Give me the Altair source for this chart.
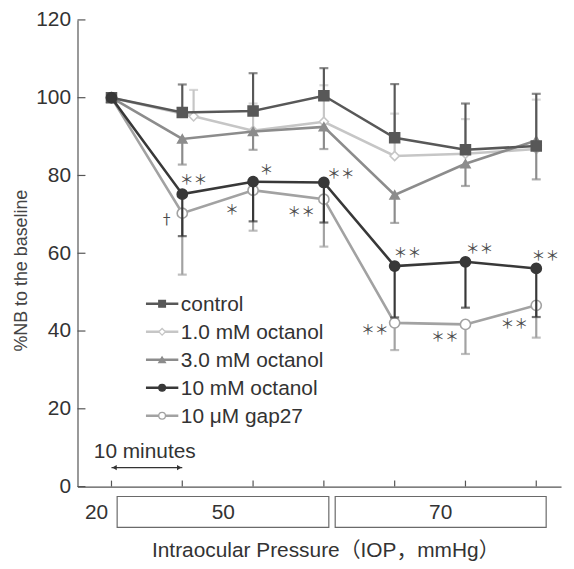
import altair as alt
import pandas as pd

FONT = "Liberation Sans, Noto Sans CJK JP"
TXT = "#333333"

# ---------------- data ----------------
series = ["control", "1.0 mM octanol", "3.0 mM octanol", "10 mM octanol", "10 μM gap27"]
times = [0, 1, 2, 3, 4, 5, 6]
times_1mM = [0, 1.16, 2, 3, 4, 5, 6]

control = [100, 96.2, 96.6, 100.5, 89.7, 86.6, 87.6]
octanol_1 = [100, 95.2, 91.5, 93.8, 85.0, 85.6, 86.8]
octanol_3 = [100, 89.4, 91.3, 92.5, 75.0, 83.0, 89.0]
octanol_10 = [100, 75.2, 78.4, 78.2, 56.7, 57.8, 56.1]
gap27 = [100, 70.3, 76.2, 73.9, 42.1, 41.7, 46.6]

# error bar end points (one-sided bars as drawn)
control_err = [None, 103.4, 106.3, 107.6, 103.5, 98.5, 101.0]
octanol_1_err = [None, 102.0, 98.5, 103.2, 95.9, 94.5, 99.5]
octanol_3_err = [None, 82.8, 86.6, 86.8, 67.8, 77.3, 79.0]
octanol_10_err = [None, 64.4, 68.2, 67.9, 43.5, 46.0, 43.6]
gap27_err = [None, 54.5, 65.8, 61.7, 35.1, 34.1, 38.3]

# significance marks
sig_text = ["＊＊", "＊", "＊＊", "†", "＊", "＊＊", "＊＊", "＊＊", "＊＊", "＊＊", "＊＊", "＊＊"]
sig_t = [1.16, 2.19, 3.24, 0.78, 1.70, 2.68, 4.18, 5.20, 6.13, 3.72, 4.71, 5.69]
sig_v = [78.8, 81.5, 80.3, 68.6, 71.1, 70.6, 60.0, 61.0, 59.2, 40.2, 38.4, 41.7]

# pressure phases
pressures = ["20", "50", "70"]
phase_start = [None, 0.08, 3.16]
phase_end = [None, 3.07, 6.14]
phase_label_t = [-0.21, 1.58, 4.65]

y_ticks = [0, 20, 40, 60, 80, 100, 120]

# ---------------- styles ----------------
line_colors = {"control": "#585858", "1.0 mM octanol": "#c6c6c6", "3.0 mM octanol": "#8c8c8c",
               "10 mM octanol": "#383838", "10 μM gap27": "#a2a2a2"}
fills = {"control": "#585858", "1.0 mM octanol": "#ffffff", "3.0 mM octanol": "#8c8c8c",
         "10 mM octanol": "#383838", "10 μM gap27": "#ffffff"}
shapes = {"control": "square", "1.0 mM octanol": "diamond", "3.0 mM octanol": "triangle-up",
          "10 mM octanol": "circle", "10 μM gap27": "circle"}
sizes = {"control": 100, "1.0 mM octanol": 85, "3.0 mM octanol": 85, "10 mM octanol": 105, "10 μM gap27": 105}

W, H = 487, 470
xscale = alt.Scale(domain=[-0.48, 6.35], nice=False, zero=False)
yscale = alt.Scale(domain=[0, 120], nice=False)
xaxis = alt.Axis(labels=False, ticks=False, grid=False, domainColor="#555555", domainWidth=1.2, title=None)
yaxis = alt.Axis(values=y_ticks, tickSize=0, labelPadding=7, labelFontSize=21, labelFont=FONT,
                 labelColor=TXT, grid=False, domainColor="#555555", domainWidth=1.2,
                 title="%NB to the baseline", titleFont=FONT, titleFontSize=18,
                 titleFontWeight="normal", titleColor="#444444", titleX=-56, titleY=252,
                 titleAngle=270, titleAlign="center", titleBaseline="middle")

X = lambda f: alt.X(f, scale=xscale, axis=xaxis, title=None)
Y = lambda f: alt.Y(f, scale=yscale, axis=yaxis, title="%NB to the baseline")

data_map = {
    "control": (times, control, control_err),
    "1.0 mM octanol": (times_1mM, octanol_1, octanol_1_err),
    "3.0 mM octanol": (times, octanol_3, octanol_3_err),
    "10 mM octanol": (times, octanol_10, octanol_10_err),
    "10 μM gap27": (times, gap27, gap27_err),
}

layers = []

# manual inward ticks
layers.append(alt.Chart(pd.DataFrame({"y": y_ticks})).mark_rule(color="#555555", strokeWidth=1.2)
              .encode(y=Y("y:Q"), x=alt.value(0), x2=alt.value(8)))
layers.append(alt.Chart(pd.DataFrame({"t": times})).mark_rule(color="#555555", strokeWidth=1.2)
              .encode(x=X("t:Q"), y=alt.value(H), y2=alt.value(H - 6)))

draw_order = ["1.0 mM octanol", "10 μM gap27", "3.0 mM octanol", "control", "10 mM octanol"]
for s in draw_order:
    t, v, e = data_map[s]
    df = pd.DataFrame({"t": t, "v": v, "err": e})
    dfe = df.dropna()
    c = line_colors[s]
    layers.append(alt.Chart(dfe).mark_rule(color=c, strokeWidth=2.2)
                  .encode(x=X("t:Q"), y=Y("v:Q"), y2="err:Q"))
    layers.append(alt.Chart(dfe).mark_tick(color=c, thickness=2.2, size=9, orient="horizontal")
                  .encode(x=X("t:Q"), y=Y("err:Q")))
    layers.append(alt.Chart(df).mark_line(color=c, strokeWidth=2.6)
                  .encode(x=X("t:Q"), y=Y("v:Q"), order="t:Q"))
    layers.append(alt.Chart(df).mark_point(shape=shapes[s], filled=True, fill=fills[s], stroke=c,
                                           strokeWidth=1.6, size=sizes[s], opacity=1)
                  .encode(x=X("t:Q"), y=Y("v:Q")))

# significance marks
sig_df = pd.DataFrame({"t": sig_t, "v": sig_v, "txt": sig_text})
layers.append(alt.Chart(sig_df).mark_text(font="Noto Sans CJK JP", fontSize=14, color="#4a4a4a",
                                          baseline="middle", align="center")
              .encode(x=X("t:Q"), y=Y("v:Q"), text="txt:N"))

# legend
for i, s in enumerate(series):
    d = pd.DataFrame([{"s": s, "v": 47.0 - 7.2 * i, "x1": 0.487, "x2": 0.944, "xs": 0.715, "xt": 0.98}])
    c = line_colors[s]
    layers.append(alt.Chart(d).mark_rule(color=c, strokeWidth=2.4)
                  .encode(x=X("x1:Q"), x2="x2:Q", y=Y("v:Q")))
    layers.append(alt.Chart(d).mark_point(shape=shapes[s], filled=True, fill=fills[s], stroke=c,
                                          strokeWidth=1.3, size=45, opacity=1)
                  .encode(x=X("xs:Q"), y=Y("v:Q")))
    layers.append(alt.Chart(d).mark_text(font=FONT, fontSize=21, color=TXT, align="left",
                                         baseline="middle", dy=1)
                  .encode(x=X("xt:Q"), y=Y("v:Q"), text="s:N"))

# 10 minutes arrow
arrow_df = pd.DataFrame({"t1": [0], "t2": [1], "v": [4.9]})
layers.append(alt.Chart(arrow_df).mark_rule(color="#333333", strokeWidth=1.3)
              .encode(x=X("t1:Q"), x2="t2:Q", y=Y("v:Q")))
layers.append(alt.Chart(arrow_df).mark_point(shape="triangle-left", filled=True, color="#333333",
                                             size=28, xOffset=3, opacity=1)
              .encode(x=X("t1:Q"), y=Y("v:Q")))
layers.append(alt.Chart(arrow_df).mark_point(shape="triangle-right", filled=True, color="#333333",
                                             size=28, xOffset=-3, opacity=1)
              .encode(x=X("t2:Q"), y=Y("v:Q")))
layers.append(alt.Chart(pd.DataFrame({"t": [-0.25], "v": [9.0], "txt": ["10 minutes"]}))
              .mark_text(font=FONT, fontSize=21, color=TXT, align="left", baseline="middle")
              .encode(x=X("t:Q"), y=Y("v:Q"), text="txt:N"))

# pressure boxes
phase_df = pd.DataFrame({"p": pressures, "s": phase_start, "e": phase_end, "m": phase_label_t})
layers.append(alt.Chart(phase_df.dropna()).mark_rect(fill="#ffffff", stroke="#6a6a6a", strokeWidth=1.2)
              .encode(x=X("s:Q"), x2="e:Q", y=alt.value(480), y2=alt.value(511)))
layers.append(alt.Chart(phase_df).mark_text(font=FONT, fontSize=21, color=TXT, baseline="middle")
              .encode(x=X("m:Q"), y=alt.value(497), text="p:N"))

# x title
layers.append(alt.Chart(pd.DataFrame({"txt": ["Intraocular Pressure（IOP，mmHg）"]}))
              .mark_text(font=FONT, fontSize=21, color=TXT, baseline="middle")
              .encode(x=alt.value(250), y=alt.value(535), text="txt:N"))

chart = alt.layer(*layers).properties(
    width=W, height=H,
    padding={"left": 70, "top": 10, "right": 5, "bottom": 80},
    autosize=alt.AutoSizeParams(type="none"),
    background="white",
).configure_view(stroke=None)

chart.save("out.html", embed_options={"renderer": "svg", "actions": False})
